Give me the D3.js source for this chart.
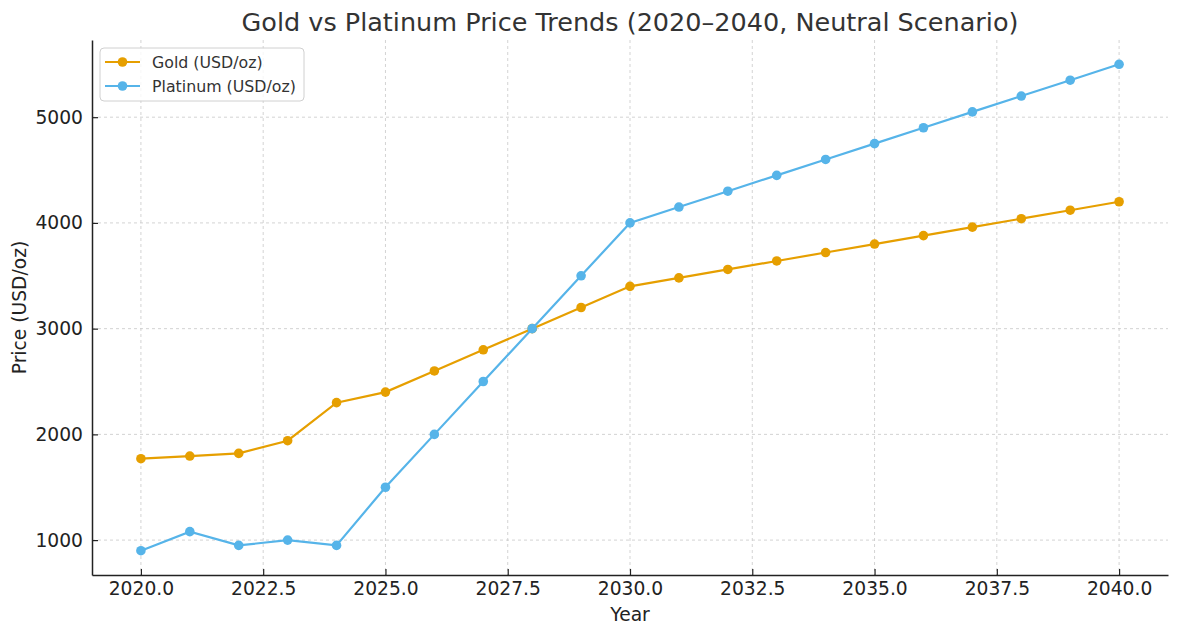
<!DOCTYPE html>
<html>
<head>
<meta charset="utf-8">
<script src="https://cdn.jsdelivr.net/npm/d3@7"></script>
<style>
  body { margin: 0; background: #fff; }
  svg { font-family: "DejaVu Sans", sans-serif; }
</style>
</head>
<body>
<svg id="chart"></svg>
<script>
// Data
const years = [2020, 2021, 2022, 2023, 2024, 2025, 2026, 2027, 2028, 2029, 2030,
               2031, 2032, 2033, 2034, 2035, 2036, 2037, 2038, 2039, 2040];
const gold = [1770, 1795, 1820, 1940, 2300, 2400, 2600, 2800, 3000, 3200, 3400,
              3480, 3560, 3640, 3720, 3800, 3880, 3960, 4040, 4120, 4200];
const platinum = [900, 1080, 950, 1000, 950, 1500, 2000, 2500, 3000, 3500, 4000,
                  4150, 4300, 4450, 4600, 4750, 4900, 5050, 5200, 5350, 5500];
const xTicks = [2020, 2022.5, 2025, 2027.5, 2030, 2032.5, 2035, 2037.5, 2040];
const yTicks = [1000, 2000, 3000, 4000, 5000];

const series = [
    { name: 'Gold (USD/oz)', values: gold, color: '#E69F00' },
    { name: 'Platinum (USD/oz)', values: platinum, color: '#56B4E9' }
];

const width = 1179;
const height = 632;
const margin = { top: 40, right: 11, bottom: 57, left: 92 };

const svg = d3.select('#chart')
    .attr('width', width)
    .attr('height', height);

// Scales (matplotlib-style 5% padding)
const xScale = d3.scaleLinear()
    .domain([2019, 2041])
    .range([margin.left, width - margin.right]);

const yScale = d3.scaleLinear()
    .domain([670, 5730])
    .range([height - margin.bottom, margin.top]);

// Grid lines
const grid = svg.append('g');
grid.selectAll('.vgrid')
    .data(xTicks)
    .enter().append('line')
    .attr('x1', d => xScale(d))
    .attr('x2', d => xScale(d))
    .attr('y1', margin.top)
    .attr('y2', height - margin.bottom)
    .attr('stroke', '#c8c8c8')
    .attr('stroke-width', 0.8)
    .attr('stroke-dasharray', '3,3');
grid.selectAll('.hgrid')
    .data(yTicks)
    .enter().append('line')
    .attr('x1', margin.left)
    .attr('x2', width - margin.right)
    .attr('y1', d => yScale(d))
    .attr('y2', d => yScale(d))
    .attr('stroke', '#c8c8c8')
    .attr('stroke-width', 0.8)
    .attr('stroke-dasharray', '3,3');

// Axes (ticks point inward)
const xAxis = d3.axisBottom(xScale)
    .tickValues(xTicks)
    .tickFormat(d3.format('.1f'))
    .tickSizeInner(-6)
    .tickSizeOuter(0)
    .tickPadding(7);

const yAxis = d3.axisLeft(yScale)
    .tickValues(yTicks)
    .tickFormat(d3.format('d'))
    .tickSizeInner(-6)
    .tickSizeOuter(0)
    .tickPadding(9);

const gx = svg.append('g')
    .attr('transform', `translate(0, ${height - margin.bottom})`)
    .call(xAxis);
const gy = svg.append('g')
    .attr('transform', `translate(${margin.left}, 0)`)
    .call(yAxis);

[gx, gy].forEach(g => {
    g.select('.domain').attr('stroke', '#222').attr('stroke-width', 1.5);
    g.selectAll('.tick line').attr('stroke', '#222').attr('stroke-width', 1.2);
    g.selectAll('.tick text')
        .attr('fill', '#222')
        .style('font-size', '18.7px')
        .style('font-family', '"DejaVu Sans", sans-serif');
});

// Lines and points
const line = d3.line()
    .x((d, i) => xScale(years[i]))
    .y(d => yScale(d));

series.forEach(s => {
    svg.append('path')
        .datum(s.values)
        .attr('fill', 'none')
        .attr('stroke', s.color)
        .attr('stroke-width', 2.2)
        .attr('d', line);

    svg.selectAll(null)
        .data(s.values)
        .enter().append('circle')
        .attr('cx', (d, i) => xScale(years[i]))
        .attr('cy', d => yScale(d))
        .attr('r', 4.8)
        .attr('fill', s.color);
});

// Title and axis labels
svg.append('text')
    .attr('x', (margin.left + width - margin.right) / 2)
    .attr('y', 31)
    .attr('text-anchor', 'middle')
    .style('font-size', '25.5px')
    .style('fill', '#333')
    .text('Gold vs Platinum Price Trends (2020–2040, Neutral Scenario)');

svg.append('text')
    .attr('x', (margin.left + width - margin.right) / 2)
    .attr('y', 621)
    .attr('text-anchor', 'middle')
    .style('font-size', '18.7px')
    .style('fill', '#222')
    .text('Year');

svg.append('text')
    .attr('transform', `translate(26, ${(margin.top + height - margin.bottom) / 2}) rotate(-90)`)
    .attr('text-anchor', 'middle')
    .style('font-size', '18.7px')
    .style('fill', '#222')
    .text('Price (USD/oz)');

// Legend
const legend = svg.append('g').attr('transform', 'translate(100, 48)');
legend.append('rect')
    .attr('width', 204)
    .attr('height', 53)
    .attr('rx', 4)
    .attr('fill', '#fff')
    .attr('fill-opacity', 0.8)
    .attr('stroke', '#d0d0d0');

series.forEach((s, i) => {
    const row = legend.append('g').attr('transform', `translate(0, ${14 + i * 24})`);
    row.append('line')
        .attr('x1', 5).attr('x2', 40)
        .attr('stroke', s.color)
        .attr('stroke-width', 2.2);
    row.append('circle')
        .attr('cx', 22.5)
        .attr('r', 4.8)
        .attr('fill', s.color);
    row.append('text')
        .attr('x', 52)
        .attr('dy', '0.35em')
        .style('font-size', '15.8px')
        .style('fill', '#333')
        .text(s.name);
});
</script>
</body>
</html>
